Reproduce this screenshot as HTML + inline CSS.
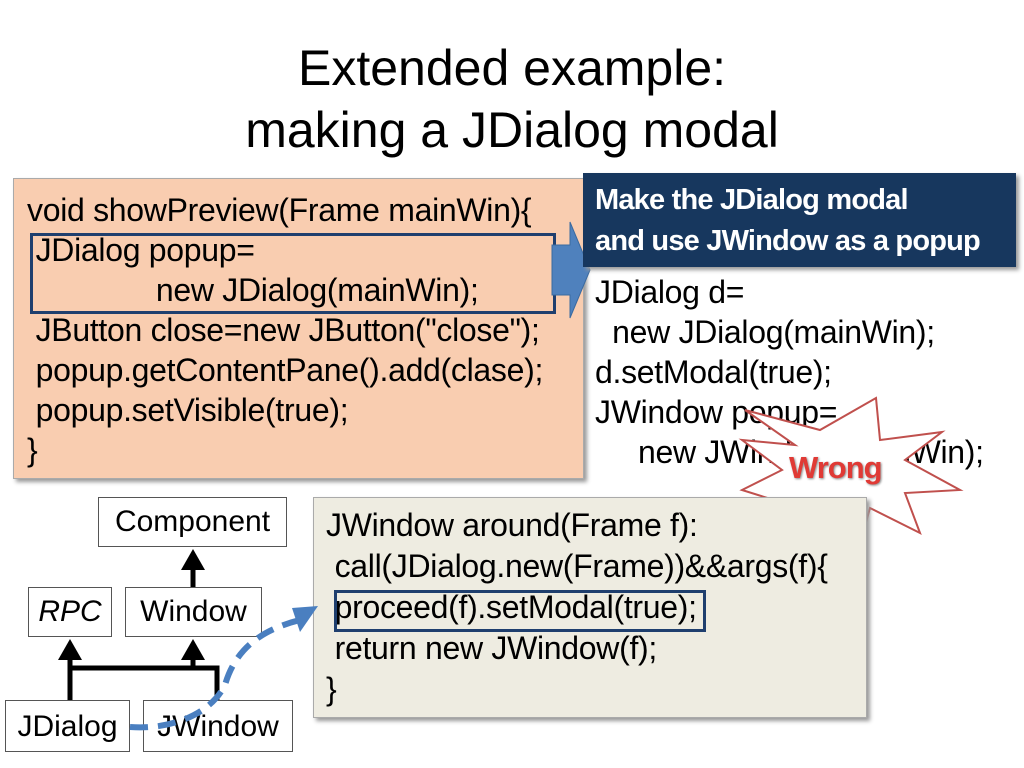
<!DOCTYPE html>
<html><head><meta charset="utf-8"><style>
body{margin:0;width:1024px;height:768px;background:#fff;position:relative;overflow:hidden;font-family:"Liberation Sans",sans-serif;}
.a{position:absolute;}
.t{position:absolute;left:0;width:1024px;text-align:center;font-size:50px;color:#000;line-height:60px;}
.code{position:absolute;font-size:32px;line-height:40px;white-space:pre;color:#000;letter-spacing:-0.3px;}
.box{position:absolute;border:1.5px solid #555;background:#fff;font-size:30px;text-align:center;box-sizing:border-box;}
</style></head><body>
<div class="t" style="top:38px">Extended example:</div>
<div class="t" style="top:100px">making a JDialog modal</div>

<div class="a" style="left:13px;top:178px;width:569px;height:299px;background:#f9cdb0;border:1px solid #aaa;box-shadow:3px 3px 4px #999;"></div>
<div class="code" style="left:27px;top:190px">void showPreview(Frame mainWin){
 JDialog popup=
               new JDialog(mainWin);
 JButton close=new JButton("close");
 popup.getContentPane().add(clase);
 popup.setVisible(true);
}</div>
<div class="a" style="left:30px;top:233px;width:520px;height:75px;border:3px solid #1f3f6e;"></div>
<svg class="a" style="left:550px;top:220px" width="44" height="100"><polygon points="2,25 20,25 20,2 40,50 20,98 20,75 2,75" fill="#4f81bd" stroke="#3a6aa0"/></svg>

<div class="a" style="left:583px;top:173px;width:433px;height:94px;background:#17375e;box-shadow:3px 3px 4px #999;"></div>
<div class="a" style="left:595px;top:180px;color:#fff;font-weight:bold;font-size:29px;line-height:41px;letter-spacing:-0.8px;white-space:nowrap">Make the JDialog modal<br>and use JWindow as a popup</div>
<div class="code" style="left:595px;top:272px">JDialog d=
  new JDialog(mainWin);
d.setModal(true);
JWindow popup=
     new JWindow(mainWin);</div>

<svg class="a" style="left:0;top:0" width="1024" height="768">
<polygon points="876,398 880,440 942,432 905,460 960,490 905,493 920,533 870,508 855,562 825,512 785,545 790,505 742,490 782,470 742,440 795,445 745,410 820,430" fill="#fff" stroke="#c0504d" stroke-width="2"/>
</svg>
<div class="a" style="left:789px;top:450px;color:#e03a35;font-weight:bold;font-size:31px;letter-spacing:-1px;text-shadow:1px 1px 2px #888">Wrong</div>

<div class="a" style="left:313px;top:497px;width:552px;height:219px;background:#eeece1;border:1px solid #aaa;box-shadow:3px 3px 4px #999;"></div>
<div class="code" style="left:326px;top:505px;line-height:41px">JWindow around(Frame f):
 call(JDialog.new(Frame))&amp;&amp;args(f){
 proceed(f).setModal(true);
 return new JWindow(f);
}</div>
<div class="a" style="left:334px;top:590px;width:372px;height:42px;border:3px solid #1f3f6e;box-sizing:border-box;"></div>

<div class="box" style="left:98px;top:497px;width:189px;height:50px;line-height:47px">Component</div>
<div class="box" style="left:28px;top:587px;width:84px;height:50px;line-height:47px;font-style:italic">RPC</div>
<div class="box" style="left:125px;top:587px;width:137px;height:50px;line-height:47px">Window</div>
<div class="box" style="left:5px;top:700px;width:125px;height:52px;line-height:52px">JDialog</div>
<div class="box" style="left:143px;top:700px;width:150px;height:52px;line-height:52px">JWindow</div>

<svg class="a" style="left:0;top:0" width="1024" height="768">
<g stroke="#000" stroke-width="5" fill="none">
<line x1="193" y1="587" x2="193" y2="568"/>
<polyline points="70,700 70,668 217,668 217,700"/>
<line x1="70" y1="668" x2="70" y2="655"/>
<line x1="193" y1="668" x2="193" y2="655"/>
</g>
<g fill="#000">
<polygon points="193,549 181,570 205,570"/>
<polygon points="70,639 58,660 82,660"/>
<polygon points="193,639 181,660 205,660"/>
</g>
<path d="M130,727 C170,730 210,715 225,685 C235,650 260,630 300,620" stroke="#4a7fc0" stroke-width="6" fill="none" stroke-dasharray="18,10"/>
<polygon points="318,606 292,608 300,632" fill="#4a7fc0"/>
</svg>
</body></html>
